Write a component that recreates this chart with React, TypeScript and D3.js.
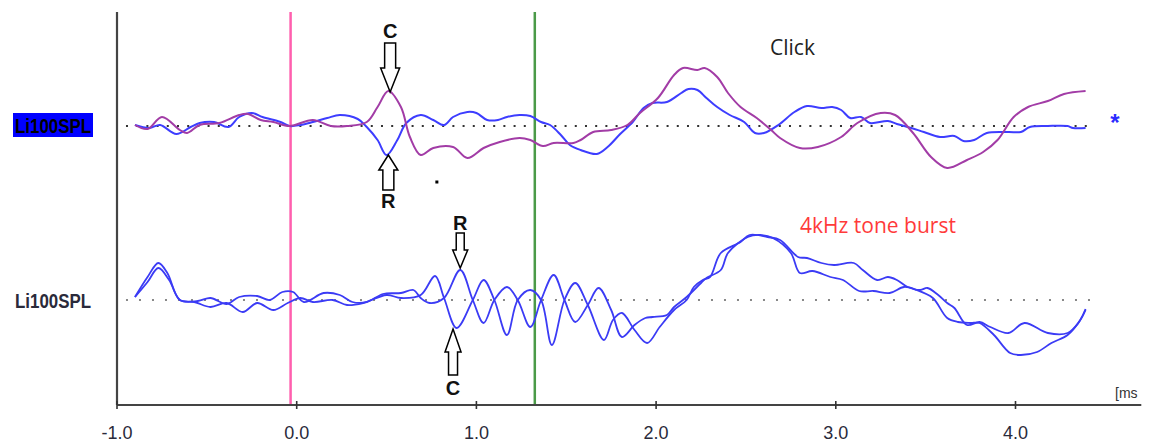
import React from 'react';
import * as d3 from 'd3';

const W = 1152;
const H = 445;

const xTicks = [-1, 0, 1, 2, 3, 4];
const xTickLabels = ['-1.0', '0.0', '1.0', '2.0', '3.0', '4.0'];
const unitLabel = '[ms';
const channelLabels = ['Li100SPL', 'Li100SPL'];
const panelTitles = ['Click', '4kHz tone burst'];
const markerTimes = [-0.034, 1.325];

// Click panel: condensation (purple) and rarefaction (blue) [ms, amplitude]
const clickCondensation: [number, number][] = [
  [-0.9, 0.1], [-0.83, -0.3], [-0.75, 0.9], [-0.65, -0.4], [-0.61, -0.7], [-0.54, 0.1],
  [-0.43, 0.3], [-0.32, 1.1], [-0.27, 1.2], [-0.2, 0.6], [-0.13, 0.4], [-0.04, 0],
  [0.09, 0.6], [0.19, 0], [0.28, 0], [0.39, 0.4], [0.45, 1.9], [0.51, 3.5], [0.58, 1.9],
  [0.63, -1.1], [0.69, -2.9], [0.76, -2.2], [0.87, -2.1], [0.95, -3.2], [1.04, -2.2],
  [1.13, -1.6], [1.24, -1.2], [1.3, -1.4], [1.37, -2.0], [1.43, -1.7], [1.54, -1.7],
  [1.58, -1.4], [1.65, -0.6], [1.75, -0.4], [1.84, 0.1], [1.91, 1.3], [2.01, 2.8],
  [2.1, 5.1], [2.15, 5.8], [2.23, 5.6], [2.27, 5.8], [2.34, 4.9], [2.4, 3.3], [2.47, 1.9],
  [2.56, 0.8], [2.64, -0.4], [2.69, -1.2], [2.8, -2.2], [2.9, -2.1], [3.03, -1.1],
  [3.12, 0.3], [3.25, 1.3], [3.33, 1.1], [3.43, -0.7], [3.53, -3.1], [3.62, -4.2],
  [3.73, -3.4], [3.82, -2.6], [3.9, -1.4], [3.99, 0.9], [4.07, 1.9], [4.18, 2.5],
  [4.27, 3.2], [4.39, 3.5],
];

const clickRarefaction: [number, number][] = [
  [-0.9, 0.1], [-0.82, -0.2], [-0.76, 0.1], [-0.67, -0.8], [-0.59, -0.1], [-0.54, 0.3],
  [-0.46, 0.4], [-0.38, -0.1], [-0.32, 0.9], [-0.25, 1.3], [-0.19, 0.9], [-0.09, 0.4],
  [-0.04, 0], [0.02, 0.1], [0.09, 0.4], [0.17, 0.8], [0.24, 1.1], [0.34, 0.7], [0.39, -0.1],
  [0.45, -1.4], [0.5, -2.9], [0.56, -1.4], [0.61, 0.3], [0.69, 1.1], [0.76, 0.6],
  [0.82, 0.1], [0.87, 0.9], [0.95, 1.4], [1.0, 1.3], [1.06, 0.6], [1.12, 0.6], [1.17, 0.9],
  [1.24, 1.1], [1.3, 1.0], [1.36, 0.4], [1.41, 0.1], [1.47, -0.9], [1.52, -1.9],
  [1.58, -2.4], [1.67, -2.8], [1.73, -2.1], [1.8, -0.8], [1.87, 0.4], [1.93, 1.8],
  [1.98, 2.3], [2.06, 2.4], [2.14, 3.3], [2.18, 3.7], [2.23, 3.6], [2.28, 2.8], [2.34, 1.9],
  [2.41, 1.1], [2.49, 0.4], [2.55, -0.7], [2.6, -0.7], [2.68, 0.1], [2.77, 1.4], [2.84, 2.0],
  [2.92, 1.8], [2.98, 1.9], [3.03, 1.6], [3.08, 0.8], [3.14, 0.9], [3.19, 0.3], [3.29, 0.5],
  [3.34, 0.2], [3.42, -0.2], [3.49, -0.6], [3.58, -1.1], [3.66, -1.0], [3.71, -1.5],
  [3.77, -1.4], [3.84, -0.7], [3.96, -0.6], [4.03, -0.6], [4.08, -0.1], [4.18, 0],
  [4.29, 0], [4.32, -0.2], [4.39, -0.2],
];

// 4 kHz tone burst panel: rarefaction and condensation (both blue)
const toneRarefaction: [number, number][] = [
  [-0.9, 0.3], [-0.83, 2.3], [-0.77, 3.7], [-0.72, 2.7], [-0.65, 0], [-0.55, -0.1],
  [-0.48, 0.2], [-0.39, -0.4], [-0.32, 0.3], [-0.22, 0.4], [-0.15, 0], [-0.08, 0.8],
  [-0.02, 0.8], [0.04, -0.2], [0.15, 0.7], [0.24, 0.5], [0.31, -0.2], [0.39, -0.2],
  [0.48, 0.6], [0.58, 0.7], [0.65, 1.0], [0.69, 0.2], [0.74, -0.3], [0.82, 0.2],
  [0.91, 3.0], [0.98, 0], [1.04, -2.3], [1.1, 0], [1.17, 1.3], [1.23, 0], [1.3, -2.7],
  [1.36, 0], [1.43, 2.5], [1.49, 0], [1.55, -2.2], [1.62, -0.5], [1.68, 1.2], [1.75, -1.0],
  [1.81, -3.7], [1.88, -2.5], [1.94, -1.8], [1.98, -1.7], [2.06, -1.5], [2.1, -0.7],
  [2.17, 0.3], [2.25, 1.7], [2.28, 2.2], [2.36, 3.0], [2.4, 4.7], [2.51, 6.3], [2.58, 6.5],
  [2.65, 6.2], [2.75, 4.7], [2.8, 2.7], [2.87, 2.9], [2.97, 2.3], [3.04, 2.0], [3.13, 0.9],
  [3.21, 0.9], [3.3, 0.7], [3.38, 1.3], [3.45, 1.0], [3.54, 0.2], [3.62, -1.8], [3.68, -2.2],
  [3.75, -2.3], [3.8, -2.3], [3.88, -3.5], [3.97, -5.3], [4.03, -5.5], [4.12, -5.2],
  [4.2, -4.3], [4.29, -3.5], [4.36, -2.0], [4.39, -0.9],
];

const toneCondensation: [number, number][] = [
  [-0.9, 0.3], [-0.83, 1.8], [-0.77, 3.2], [-0.71, 2.0], [-0.65, 0], [-0.57, -0.2],
  [-0.48, -0.7], [-0.39, -0.3], [-0.3, -1.2], [-0.22, -0.3], [-0.13, -1.0], [-0.05, -0.3],
  [0.02, 0.2], [0.09, -0.2], [0.2, 0], [0.28, -0.5], [0.37, -0.3], [0.5, 0.5], [0.58, 0.2],
  [0.69, 0.5], [0.77, 2.4], [0.82, 0.2], [0.89, -2.8], [0.98, 0], [1.04, 2.0], [1.1, 0],
  [1.17, -3.5], [1.23, 0], [1.3, 1.0], [1.36, 0], [1.42, -4.5], [1.49, 0], [1.55, 1.7],
  [1.62, -0.5], [1.71, -4.0], [1.76, -2.0], [1.81, -1.3], [1.88, -3.0], [1.95, -4.3],
  [2.02, -2.7], [2.1, -1.0], [2.17, 0], [2.21, 1.3], [2.26, 2.0], [2.3, 2.3], [2.36, 4.7],
  [2.47, 5.8], [2.52, 6.5], [2.62, 6.3], [2.69, 6.0], [2.79, 4.3], [2.84, 4.2], [2.92, 3.7],
  [2.99, 3.5], [3.1, 3.7], [3.15, 3.0], [3.23, 2.0], [3.29, 2.3], [3.34, 2.0], [3.4, 1.3],
  [3.47, 1.0], [3.51, 1.2], [3.57, 0.5], [3.62, -0.3], [3.66, -0.8], [3.73, -2.5],
  [3.8, -2.2], [3.86, -2.7], [3.96, -3.3], [4.05, -2.3], [4.18, -3.3], [4.29, -3.3],
  [4.35, -2.3], [4.39, -1.0],
];

const annotations = [
  { panel: 0, t: 0.52, v: 3.4, dir: 'down', label: 'C' },
  { panel: 0, t: 0.51, v: -2.9, dir: 'up', label: 'R' },
  { panel: 1, t: 0.91, v: 3.2, dir: 'down', label: 'R' },
  { panel: 1, t: 0.87, v: -2.9, dir: 'up', label: 'C' },
];
const strayDot = { panel: 0, t: 0.78, v: -5.6 };

// arrow geometry (pixels)
const arrowStyles = [
  { len: 49, head: 24, sw: 11, hw: 19, labelOff: 54 },
  { len: 35, head: 15, sw: 11, hw: 19, labelOff: 53 },
  { len: 35, head: 18, sw: 8, hw: 15, labelOff: 38 },
  { len: 46, head: 23, sw: 9, hw: 16, labelOff: 66 },
];

export default function App() {
  const x = d3.scaleLinear().domain([-1, 4]).range([117, 1015.5]);
  const baselines = [126, 300];
  const yScales = baselines.map((b) => d3.scaleLinear().domain([-10, 10]).range([b + 100, b - 100]));
  const axisY = 405;
  const topY = 12;

  const mkLine = (panel: number) =>
    d3
      .line<[number, number]>()
      .x((d) => x(d[0]))
      .y((d) => yScales[panel](d[1]))
      .curve(d3.curveCatmullRom.alpha(0.5));

  const traces = [
    { data: clickRarefaction, panel: 0, color: '#3d3dff', w: 2 },
    { data: clickCondensation, panel: 0, color: '#a23ca6', w: 2 },
    { data: toneRarefaction, panel: 1, color: '#3b3bf5', w: 1.8 },
    { data: toneCondensation, panel: 1, color: '#3b3bf5', w: 1.8 },
  ];

  const arrowPath = (tx: number, ty: number, dir: string, s: typeof arrowStyles[0]) => {
    const k = dir === 'down' ? -1 : 1;
    const pts: [number, number][] = [
      [tx - s.sw / 2, ty + k * s.len],
      [tx + s.sw / 2, ty + k * s.len],
      [tx + s.sw / 2, ty + k * s.head],
      [tx + s.hw / 2, ty + k * s.head],
      [tx, ty],
      [tx - s.hw / 2, ty + k * s.head],
      [tx - s.sw / 2, ty + k * s.head],
    ];
    return 'M' + pts.map((p) => p.join(',')).join('L') + 'Z';
  };

  const font = "'Liberation Sans', Arial, sans-serif";

  return (
    <svg
      width={W}
      height={H}
      style={{ position: 'absolute', left: 0, top: 0, background: '#fff' }}
      viewBox={`0 0 ${W} ${H}`}
    >
      <rect x={0} y={0} width={W} height={H} fill="#fff" />
      {/* dotted baselines */}
      {baselines.map((b, i) => (
        <line
          key={'bl' + i}
          x1={x(-0.95)}
          x2={x(4.42)}
          y1={yScales[i](0)}
          y2={yScales[i](0)}
          stroke={i === 0 ? '#333' : '#888'}
          strokeWidth={2}
          strokeDasharray={i === 0 ? '2 8.2' : '2 11'}
        />
      ))}
      {/* marker lines */}
      <line x1={x(markerTimes[0])} x2={x(markerTimes[0])} y1={topY} y2={axisY} stroke="#ff5fae" strokeWidth={2.5} />
      <line x1={x(markerTimes[1])} x2={x(markerTimes[1])} y1={topY} y2={axisY} stroke="#4b9a48" strokeWidth={2.5} />
      {/* traces */}
      {traces.map((tr, i) => (
        <path
          key={'tr' + i}
          d={mkLine(tr.panel)(tr.data) || ''}
          fill="none"
          stroke={tr.color}
          strokeWidth={tr.w}
          strokeLinejoin="round"
        />
      ))}
      {/* axes */}
      <line x1={117} x2={117} y1={topY} y2={axisY} stroke="#444" strokeWidth={2.2} />
      <line x1={117} x2={x(4.7)} y1={axisY} y2={axisY} stroke="#444" strokeWidth={2.2} />
      {xTicks.map((t, i) => (
        <g key={'tk' + i}>
          <line x1={x(t)} x2={x(t)} y1={axisY - 4} y2={axisY + 4} stroke="#333" strokeWidth={1.6} />
          <text x={x(t)} y={439} textAnchor="middle" fontFamily={font} fontSize={18} fill="#2a2a3a">
            {xTickLabels[i]}
          </text>
        </g>
      ))}
      <text x={1115} y={398} fontFamily={font} fontSize={14} fill="#333">
        {unitLabel}
      </text>
      {/* channel labels */}
      <rect x={13} y={113} width={80} height={24} fill="#0000ff" />
      <text x={15} y={133} fontFamily={font} fontWeight="bold" fontSize={21} fill="#000" textLength={76} lengthAdjust="spacingAndGlyphs">
        {channelLabels[0]}
      </text>
      <text x={15} y={308} fontFamily={font} fontWeight="bold" fontSize={21} fill="#2a2a3a" textLength={76} lengthAdjust="spacingAndGlyphs">
        {channelLabels[1]}
      </text>
      {/* titles */}
      <text x={770} y={55} fontFamily="'Open Sans', sans-serif" fontSize={21} fill="#222">
        {panelTitles[0]}
      </text>
      <text x={800} y={233} fontFamily="'Open Sans', sans-serif" fontSize={21} fill="#ff3a3a">
        {panelTitles[1]}
      </text>
      <text x={1115} y={131} textAnchor="middle" fontFamily={font} fontSize={24} fontWeight="bold" fill="#2b2bff">
        *
      </text>
      {/* stray dot */}
      <rect x={x(strayDot.t) - 1.5} y={yScales[strayDot.panel](strayDot.v) - 1.5} width={3} height={3} fill="#000" />
      {/* annotations */}
      {annotations.map((a, i) => {
        const s = arrowStyles[i];
        const tx = x(a.t);
        const ty = yScales[a.panel](a.v);
        const ly = a.dir === 'down' ? ty - s.labelOff : ty + s.labelOff;
        return (
          <g key={'an' + i}>
            <path d={arrowPath(tx, ty, a.dir, s)} fill="#fff" stroke="#000" strokeWidth={1.5} />
            <text x={tx} y={ly} textAnchor="middle" fontFamily={font} fontWeight="bold" fontSize={20} fill="#111">
              {a.label}
            </text>
          </g>
        );
      })}
    </svg>
  );
}
